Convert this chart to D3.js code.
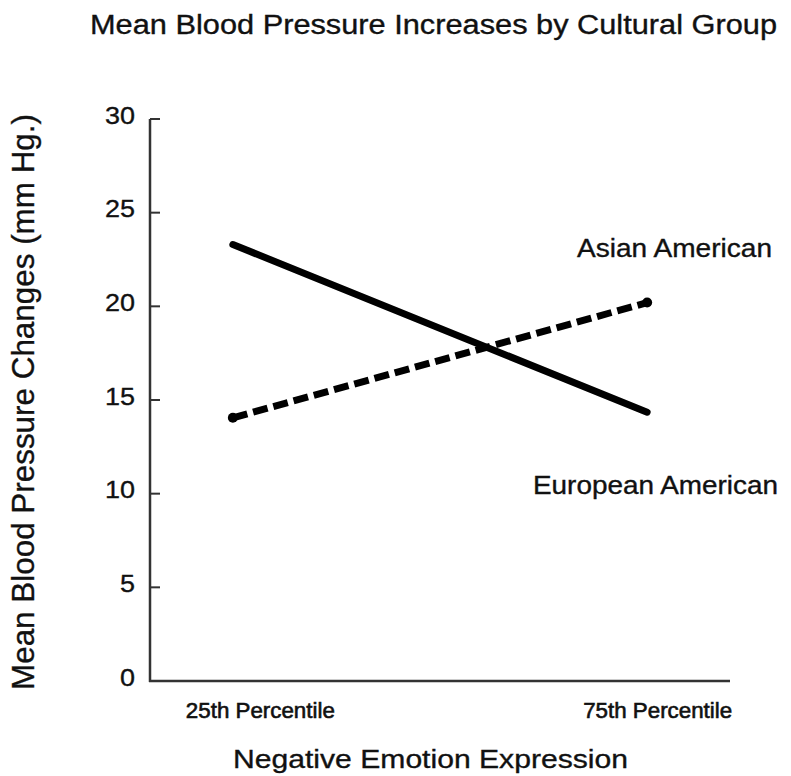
<!DOCTYPE html>
<html>
<head>
<meta charset="utf-8">
<script src="https://cdn.jsdelivr.net/npm/d3@7"></script>
<style>
body { margin: 0; background: #fff; }
text { font-family: "Liberation Sans", Arial, sans-serif; fill: #111; stroke: #111; stroke-width: 0.35px; }
</style>
</head>
<body>
<svg id="chart" width="791" height="776"></svg>
<script>
const categories = ["25th Percentile", "75th Percentile"];
const seriesNames = ["European American", "Asian American"];
const europeanValues = [23.3, 14.35];
const asianValues = [14.05, 20.2];
const yTicks = [0, 5, 10, 15, 20, 25, 30];

const svg = d3.select("#chart");
const mLeft = 150, mRight = 730, mTop = 119, mBottom = 681;

const x = d3.scalePoint().domain(categories).range([mLeft, mRight]).padding(0.2);
const y = d3.scaleLinear().domain([0, 30]).range([mBottom, mTop]);

function fitText(sel, len) {
  return sel.attr("textLength", len).attr("lengthAdjust", "spacingAndGlyphs");
}

// title
fitText(svg.append("text").attr("x", 90).attr("y", 34)
  .style("font-size", "27px").text("Mean Blood Pressure Increases by Cultural Group"), 687);

// y axis
const ya = svg.append("g").attr("transform", `translate(${mLeft},0)`)
  .call(d3.axisLeft(y).tickValues(yTicks).tickSize(0).tickPadding(15));
ya.select(".domain").remove();
ya.selectAll("text").style("font-size", "24.5px").attr("dy", null).attr("y", 4)
  .attr("x", -15)
  .each(function(d) { const s = String(d); d3.select(this).attr("textLength", s.length * 15).attr("lengthAdjust", "spacingAndGlyphs"); });
svg.selectAll(".tk").data(yTicks.filter(d => d > 0)).enter().append("line")
  .attr("x1", mLeft).attr("x2", mLeft + 10).attr("y1", d => y(d)).attr("y2", d => y(d))
  .attr("stroke", "#333").attr("stroke-width", 2);
svg.append("line").attr("x1", mLeft).attr("x2", mLeft).attr("y1", mTop).attr("y2", mBottom + 1)
  .attr("stroke", "#333").attr("stroke-width", 2.5);

// x axis
const labelShift = [27, 10];
const xa = svg.append("g").attr("transform", `translate(0,${mBottom})`)
  .call(d3.axisBottom(x).tickSize(0).tickPadding(0));
xa.select(".domain").remove();
xa.selectAll("text").style("font-size", "21.5px")
  .attr("dy", null).attr("y", 37)
  .attr("x", (d, i) => labelShift[i])
  .attr("textLength", 149).attr("lengthAdjust", "spacingAndGlyphs")
  .style("stroke-width", "0.6px");
svg.append("line").attr("x1", mLeft - 1).attr("x2", mRight).attr("y1", mBottom).attr("y2", mBottom)
  .attr("stroke", "#333").attr("stroke-width", 2.5);

// axis titles
fitText(svg.append("text").attr("transform", `translate(34,${(114 + 690) / 2}) rotate(-90)`)
  .attr("text-anchor", "middle").style("font-size", "30.5px")
  .text("Mean Blood Pressure Changes (mm Hg.)"), 576);
fitText(svg.append("text").attr("x", 233).attr("y", 768)
  .style("font-size", "26.5px").text("Negative Emotion Expression"), 395);

const line = d3.line().x((d, i) => x(categories[i])).y(d => y(d));

svg.append("path").datum(europeanValues).attr("d", line)
  .attr("fill", "none").attr("stroke", "#000").attr("stroke-width", 7).attr("stroke-linecap", "round");
svg.append("path").datum(asianValues).attr("d", line)
  .attr("fill", "none").attr("stroke", "#000").attr("stroke-width", 7)
  .attr("stroke-dasharray", "15,6");
svg.selectAll(".dot").data(asianValues).enter().append("circle")
  .attr("cx", (d, i) => x(categories[i])).attr("cy", d => y(d)).attr("r", 5).attr("fill", "#000");

// series labels
fitText(svg.append("text").attr("x", 577).attr("y", 257)
  .style("font-size", "26px").text(seriesNames[1]), 195);
fitText(svg.append("text").attr("x", 533).attr("y", 494)
  .style("font-size", "25px").text(seriesNames[0]), 245);
</script>
</body>
</html>
